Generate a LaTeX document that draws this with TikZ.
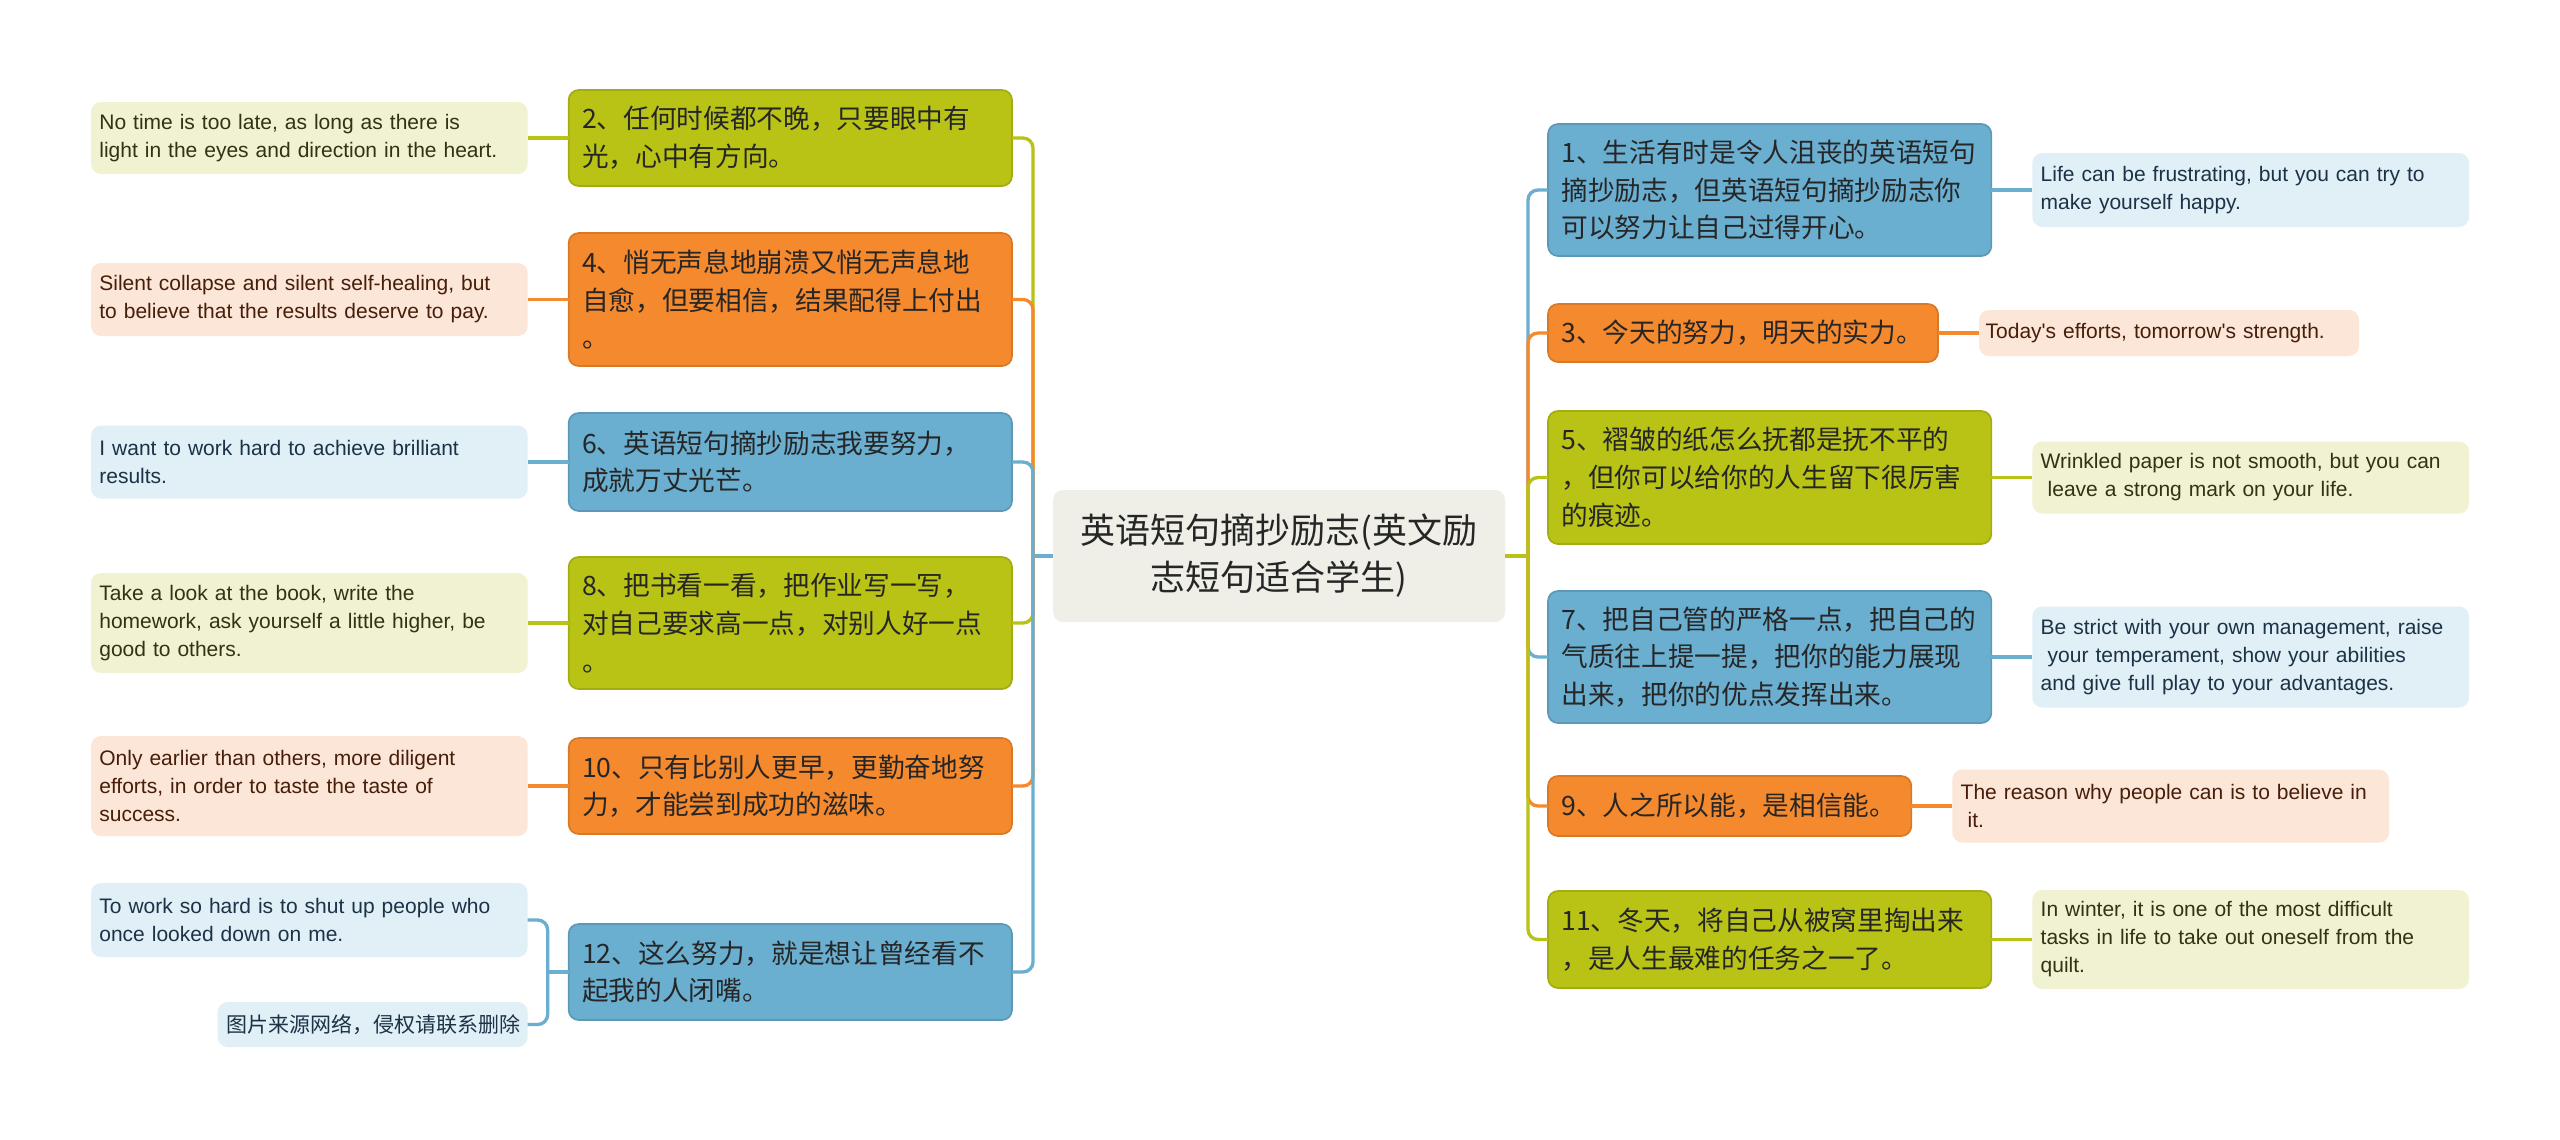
\documentclass[tikz,border=0pt]{standalone}
\usepackage{fontspec}
\setmainfont[Ligatures=TeXOff]{Liberation Sans}
\newfontfamily\cjk{Noto Sans CJK SC}
\usepackage{tikz}
\usetikzlibrary{positioning}

\definecolor{mblue}{HTML}{6AAED0}
\definecolor{morange}{HTML}{F5892D}
\definecolor{mgreen}{HTML}{B8C316}
\definecolor{lblue}{HTML}{E1EFF7}
\definecolor{lorange}{HTML}{FCE6D7}
\definecolor{lgreen}{HTML}{F0F2D2}
\definecolor{cfill}{HTML}{EFEFE8}
\definecolor{tmain}{HTML}{262626}
\definecolor{tblue}{HTML}{1C3246}
\definecolor{torange}{HTML}{461E0A}
\definecolor{tgreen}{HTML}{323214}

\begin{document}
\begin{tikzpicture}[x=0.3pt,y=-0.3pt,node distance=12.3pt,
    cbox/.style={fill=cfill,rounded corners=3pt,text width=128pt,align=center,
        minimum width=135.6pt,minimum height=39.6pt,outer sep=0pt,
        font=\cjk\fontsize{10.5}{14.1}\selectfont,text=tmain},
    mbox/.style={fill=#1,draw=#1!88!black,line width=0.5pt,rounded corners=3pt,
        text width=125pt,inner xsep=4pt,inner ysep=2pt,align=left,outer sep=0pt,
        font=\cjk\fontsize{8}{11.3}\selectfont,text=tmain},
    lbox/.style 2 args={fill=#1,text=#2,rounded corners=3pt,text width=126pt,
        inner xsep=2.5pt,inner ysep=2pt,align=left,outer sep=0pt,
        font=\fontsize{6.3}{8.4}\selectfont},
    conn/.style={draw=#1,line width=1pt}]

    \fill[white] (0,0) rectangle (2560,1139);
    \useasboundingbox (0,0) rectangle (2560,1139);

    % centre
    \node[cbox] (c) at (1279,556) {英语短句摘抄励志(英文励\\志短句适合学生)};

    % left side
    \node[mbox=mgreen,anchor=east,minimum height=28.8pt] (m2) at (1012,138)
        {2、任何时候都不晚，只要眼中有\\光，心中有方向。};
    \node[mbox=morange,anchor=east,minimum height=39.9pt] (m4) at (1012,299.5)
        {4、悄无声息地崩溃又悄无声息地\\自愈，但要相信，结果配得上付出\\。};
    \node[mbox=mblue,anchor=east,minimum height=29.4pt] (m6) at (1012,462)
        {6、英语短句摘抄励志我要努力，\\成就万丈光芒。};
    \node[mbox=mgreen,anchor=east,minimum height=39.6pt] (m8) at (1012,623)
        {8、把书看一看，把作业写一写，\\对自己要求高一点，对别人好一点\\。};
    \node[mbox=morange,anchor=east,minimum height=28.8pt] (m10) at (1012,786)
        {10、只有比别人更早，更勤奋地努\\力，才能尝到成功的滋味。};
    \node[mbox=mblue,anchor=east,minimum height=28.8pt] (m12) at (1012,972)
        {12、这么努力，就是想让曾经看不\\起我的人闭嘴。};

    \node[lbox={lgreen}{tgreen},minimum height=21.6pt] (l2) [left=of m2]
        {No time is too late, as long as there is\\light in the eyes and direction in the heart.};
    \node[lbox={lorange}{torange},minimum height=21.9pt] (l4) [left=of m4]
        {Silent collapse and silent self-healing, but\\to believe that the results deserve to pay.};
    \node[lbox={lblue}{tblue},minimum height=21.9pt] (l6) [left=of m6]
        {I want to work hard to achieve brilliant\\results.};
    \node[lbox={lgreen}{tgreen},minimum height=30pt] (l8) [left=of m8]
        {Take a look at the book, write the\\homework, ask yourself a little higher, be\\good to others.};
    \node[lbox={lorange}{torange},minimum height=30pt] (l10) [left=of m10]
        {Only earlier than others, more diligent\\efforts, in order to taste the taste of\\success.};
    \node[lbox={lblue}{tblue},minimum height=22.2pt] (l12a) [left=of m12,yshift=15.6pt]
        {To work so hard is to shut up people who\\once looked down on me.};
    \node[lbox={lblue}{tblue},minimum height=13.5pt,text width=88pt,
        align=center,font=\cjk\fontsize{6.3}{7.5}\selectfont] (l12b) [left=of m12,yshift=-15.75pt]
        {图片来源网络，侵权请联系删除};

    % right side
    \node[mbox=mblue,anchor=west,minimum height=39.6pt] (m1) at (1548,190)
        {1、生活有时是令人沮丧的英语短句\\摘抄励志，但英语短句摘抄励志你\\可以努力让自己过得开心。};
    \node[mbox=morange,anchor=west,minimum height=17.4pt,text width=109pt] (m3) at (1548,333)
        {3、今天的努力，明天的实力。};
    \node[mbox=mgreen,anchor=west,minimum height=39.9pt] (m5) at (1548,477.5)
        {5、褶皱的纸怎么抚都是抚不平的\\，但你可以给你的人生留下很厉害\\的痕迹。};
    \node[mbox=mblue,anchor=west,minimum height=39.6pt] (m7) at (1548,657)
        {7、把自己管的严格一点，把自己的\\气质往上提一提，把你的能力展现\\出来，把你的优点发挥出来。};
    \node[mbox=morange,anchor=west,minimum height=18pt,text width=101pt] (m9) at (1548,806)
        {9、人之所以能，是相信能。};
    \node[mbox=mgreen,anchor=west,minimum height=29.1pt] (m11) at (1548,939.5)
        {11、冬天，将自己从被窝里掏出来\\，是人生最难的任务之一了。};

    \node[lbox={lblue}{tblue},minimum height=22.2pt] (l1) [right=of m1]
        {Life can be frustrating, but you can try to\\make yourself happy.};
    \node[lbox={lorange}{torange},minimum height=13.8pt,text width=110pt,inner xsep=2pt] (l3) [right=of m3]
        {Today's efforts, tomorrow's strength.};
    \node[lbox={lgreen}{tgreen},minimum height=21.6pt] (l5) [right=of m5]
        {Wrinkled paper is not smooth, but you can\\\ leave a strong mark on your life.};
    \node[lbox={lblue}{tblue},minimum height=30.3pt] (l7) [right=of m7]
        {Be strict with your own management, raise\\\ your temperament, show your abilities\\and give full play to your advantages.};
    \node[lbox={lorange}{torange},minimum height=21.9pt] (l9) [right=of m9]
        {The reason why people can is to believe in\\\ it.};
    \node[lbox={lgreen}{tgreen},minimum height=29.7pt] (l11) [right=of m11]
        {In winter, it is one of the most difficult\\tasks in life to take out oneself from the\\quilt.};

    % connectors
    \coordinate (tl) at (1033,556);
    \coordinate (tr) at (1528,556);
    \coordinate (j12) at ([xshift=-6.3pt]m12.west);
    \draw[conn=mblue] (c.west) -- (tl);
    \draw[conn=mgreen] (c.east) -- (tr);
    \foreach \n/\col in {m2/mgreen,m4/morange,m6/mblue,m8/mgreen,m10/morange,m12/mblue}
        \draw[conn=\col,rounded corners=3pt] (tl) |- (\n.east);
    \foreach \n/\col in {m1/mblue,m3/morange,m5/mgreen,m7/mblue,m9/morange,m11/mgreen}
        \draw[conn=\col,rounded corners=3pt] (tr) |- (\n.west);
    \foreach \n/\col in {2/mgreen,4/morange,6/mblue,8/mgreen,10/morange}
        \draw[conn=\col] (m\n.west) -- (l\n.east);
    \foreach \n/\col in {1/mblue,3/morange,5/mgreen,7/mblue,9/morange,11/mgreen}
        \draw[conn=\col] (m\n.east) -- (l\n.west);
    \draw[conn=mblue] (m12.west) -- (j12);
    \draw[conn=mblue,rounded corners=3pt] (l12a.east) -| (j12) |- (l12b.east);
\end{tikzpicture}
\end{document}
